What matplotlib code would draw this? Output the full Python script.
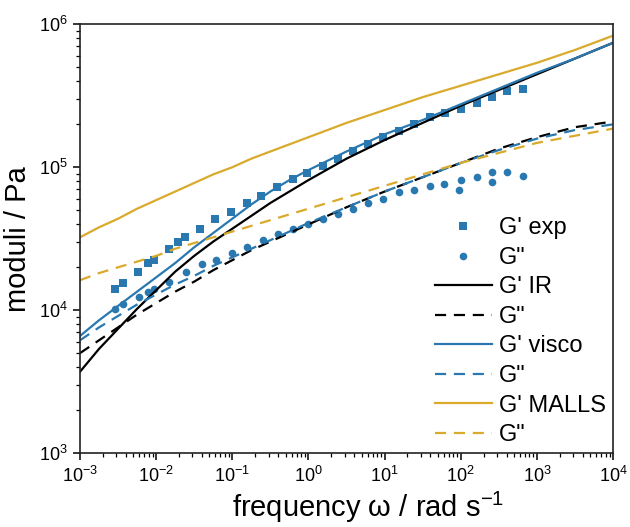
import numpy as np
import matplotlib
matplotlib.use("Agg")
import matplotlib.pyplot as plt
from matplotlib.ticker import LogLocator, NullFormatter

w_exp = [2.88e-3, 3.72e-3, 5.75e-3, 7.76e-3, 9.33e-3, 1.48e-2, 1.95e-2, 2.40e-2, 3.80e-2, 5.89e-2,
         9.55e-2, 0.155, 0.240, 0.389, 0.631, 0.955, 1.55, 2.45, 3.89, 6.03,
         9.55, 15.5, 24.5, 39.8, 63.1, 102, 166, 257, 407, 661]
Gp_exp = [14100, 15500, 18600, 21400, 22400, 26900, 30200, 32400, 37200, 43600,
          49000, 56200, 63100, 72400, 83200, 91200, 102000, 115000, 129000, 145000,
          162000, 178000, 200000, 224000, 240000, 257000, 282000, 309000, 339000, 355000]

w_exp2 = [2.88e-3, 3.72e-3, 6.03e-3, 7.76e-3, 9.33e-3, 1.48e-2, 2.45e-2, 3.98e-2, 6.17e-2, 0.100,
          0.155, 0.251, 0.398, 0.631, 1.00, 1.55, 2.45, 3.89, 6.03, 9.55,
          15.5, 24.5, 39.8, 60.3, 95.5, 102, 166, 257, 257, 407, 661]
Gpp_exp = [10200, 11000, 12300, 13500, 14100, 15800, 18600, 20900, 22400, 25100,
           27500, 30900, 33900, 37200, 39800, 43600, 46800, 51300, 56200, 60300,
           67600, 69200, 74100, 75900, 69200, 81300, 85100, 79400, 93300, 93300, 87100]

# model curves
w_fit = [1e-3, 1.78e-3, 3.16e-3, 5.62e-3, 1e-2, 1.78e-2, 3.16e-2, 5.62e-2, 0.1, 0.178,
         0.316, 0.562, 1, 3.16, 10, 31.6, 100, 316, 1000, 3160, 1e4]
Gp_IR = [3715, 5370, 7413, 10233, 13804, 18621, 23988, 30200, 37154, 45709,
         56234, 67608, 81283, 114815, 154882, 204174, 269153, 346737, 446684, 575440, 741310]
Gpp_IR = [5012, 6166, 7586, 9333, 11220, 13490, 15849, 19055, 22387, 26303,
          30200, 34674, 39811, 52481, 67608, 85114, 107152, 134896, 162181, 190546, 208930]
Gp_visco = [6607, 8511, 10715, 13490, 16982, 21380, 27542, 34674, 43652, 54954,
            67608, 81283, 95499, 128825, 169824, 213796, 275423, 354813, 457088, 575440, 741310]
Gpp_visco = [6166, 7586, 9120, 10965, 12882, 15136, 17378, 20417, 23442, 26915,
             30903, 35481, 40738, 52481, 67608, 85114, 107152, 131826, 158489, 181970, 199526]
Gp_malls = [32359, 38019, 43652, 51286, 58884, 67608, 77625, 89125, 100000, 114815,
            128825, 144544, 162181, 204174, 251189, 309030, 371535, 446684, 537032, 660693, 831764]
Gpp_malls = [16218, 18197, 19953, 21878, 23988, 26915, 29512, 32359, 35481, 38905,
             42658, 46774, 51286, 61660, 74131, 89125, 107152, 125893, 147911, 165959, 186209]

blue = "#2a78b0"
gold = "#d9aa2b"

plt.rcParams.update({
    'font.family': ['Liberation Sans', 'DejaVu Sans'],
    'mathtext.default': 'regular',
    'axes.unicode_minus': False,
})

fig = plt.figure(figsize=(6.3, 5.27), dpi=100)
ax = fig.add_axes([0.127, 0.140, 0.846, 0.814])

lw = 1.6
dash = (5, 3.5)
ax.plot(w_exp, Gp_exp, 's', color=blue, ms=5.5, mew=0, label="G' exp")
ax.plot(w_exp2, Gpp_exp, 'o', color=blue, ms=5.5, mew=0, label='G"')
ax.plot(w_fit, Gp_IR, '-', color='black', lw=lw, label="G' IR")
ax.plot(w_fit, Gpp_IR, '--', color='black', lw=lw, dashes=dash, label='G"')
ax.plot(w_fit, Gp_visco, '-', color=blue, lw=lw, label="G' visco")
ax.plot(w_fit, Gpp_visco, '--', color=blue, lw=lw, dashes=dash, label='G"')
ax.plot(w_fit, Gp_malls, '-', color=gold, lw=lw, label="G' MALLS")
ax.plot(w_fit, Gpp_malls, '--', color=gold, lw=lw, dashes=dash, label='G"')

ax.set_xscale('log')
ax.set_yscale('log')
ax.set_xlim(1e-3, 1e4)
ax.set_ylim(1e3, 1e6)

ax.xaxis.set_major_locator(LogLocator(base=10, numticks=20))
ax.xaxis.set_minor_locator(LogLocator(base=10, subs=np.arange(2, 10), numticks=20))
ax.xaxis.set_minor_formatter(NullFormatter())
ax.yaxis.set_minor_formatter(NullFormatter())

for s in ax.spines.values():
    s.set_linewidth(1.2)
    s.set_color('#222222')
ax.tick_params(which='major', direction='out', length=5, width=1.1, labelsize=13, pad=4)
ax.tick_params(which='minor', direction='out', length=3, width=0.9)
ax.tick_params(top=False, right=False, which='both')

ax.set_xlabel(r'frequency $\omega$ / rad s$^{-1}$', fontsize=21)
ax.xaxis.set_label_coords(0.54, -0.085)
ax.set_ylabel('moduli / Pa', fontsize=21, labelpad=5)

ax.legend(loc='lower right', frameon=False, fontsize=17, numpoints=1,
          handlelength=2.4, handletextpad=0.3, labelspacing=0.32,
          borderaxespad=0.1, borderpad=0.2)

fig.savefig('out.png', dpi=100)
